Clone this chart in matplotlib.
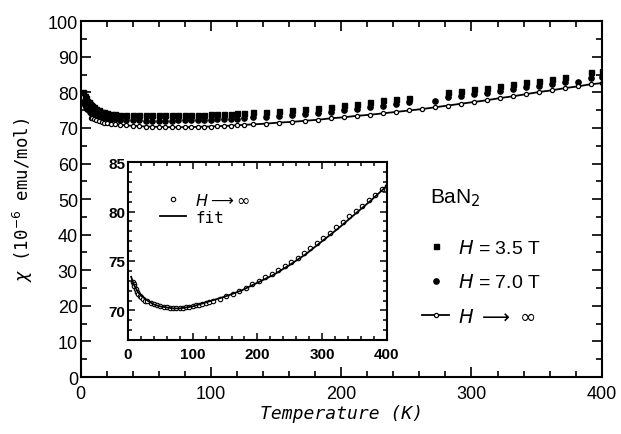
import numpy as np
import matplotlib
matplotlib.use("Agg")
import matplotlib.pyplot as plt
from matplotlib.ticker import MultipleLocator

nan = np.nan

# temperature grid (K)
temp = [2, 3, 4, 5, 6, 7, 8, 9, 10, 12, 14, 16, 18, 20, 23, 26, 30,
        35, 40, 45, 50, 55, 60, 65, 70, 75, 80, 85, 90, 95, 100, 105, 110, 115, 120, 125,
        132, 142, 152, 162, 172, 182, 192, 202, 212, 222, 232, 242, 252, 262, 272,
        282, 292, 302, 312, 322, 332, 342, 352, 362, 372, 382, 392, 400]

# H = 3.5 T
chi_35 = [80.0, 79.0, 78.3, 77.7, 77.2, 76.8, 76.4, 76.1, 75.8, 75.3, 74.9, 74.6, 74.4, 74.2, 74.0, 73.8, 73.7,
          73.6, 73.6, 73.5, 73.5, 73.5, 73.5, 73.5, 73.5, 73.6, 73.6, 73.6, 73.7, 73.7, 73.8, 73.9, 74.0, 74.0, 74.1, 74.2,
          74.4, 74.5, 74.8, 75.1, 75.3, 75.6, 75.8, 76.4, 76.8, 77.2, 77.8, 78.0, 78.4, nan, nan,
          80.0, 80.4, 80.9, 81.1, 81.8, 82.3, 82.8, 83.2, 83.7, 84.4, nan, 85.6, 86.0]

# H = 7.0 T
chi_70 = [77.2, 76.4, 75.8, 75.3, 74.9, 74.6, 74.3, 74.0, 73.8, 73.5, 73.2, 73.0, 72.8, 72.7, 72.5, 72.4, 72.3,
          72.2, 72.1, 72.1, 72.0, 72.0, 72.0, 72.0, 72.0, 72.1, 72.1, 72.1, 72.2, 72.2, 72.3, 72.4, 72.5, 72.5, 72.6, 72.7,
          73.0, 73.2, 73.4, 73.7, 73.9, 74.2, 74.5, 74.9, 75.3, 75.8, 76.3, 76.7, 77.2, nan, 77.5,
          78.6, 79.1, 79.5, 79.9, 80.5, 81.0, 81.5, 81.9, 82.4, 82.9, 82.9, 84.1, 84.3]

# H -> infinity (extrapolated)
chi_inf = [nan, nan, nan, nan, nan, nan, 72.9, 72.7, 72.5, 72.2, 71.9, 71.7, 71.5, 71.4, 71.2, 71.0, 70.9,
           70.7, 70.6, 70.5, 70.4, 70.35, 70.3, 70.25, 70.2, 70.2, 70.2, 70.25, 70.3, 70.35, 70.4, 70.5, 70.55, 70.65, 70.75, 70.85,
           71.0, 71.2, 71.5, 71.7, 72.0, 72.3, 72.7, 73.0, 73.4, 73.7, 74.1, 74.5, 74.9, 75.3, 75.8,
           76.3, 76.8, 77.3, 77.8, 78.4, 78.9, 79.5, 80.1, 80.6, 81.2, 81.7, 82.3, 82.6]

# fit curve (inset)
fit_t = [5, 8, 10, 15, 20, 30, 40, 50, 60, 70, 80, 100, 120, 150, 175, 200, 225, 250, 275, 300, 325, 350, 375, 400]
fit_chi = [73.4, 72.8, 72.5, 71.9, 71.5, 71.0, 70.6, 70.4, 70.3, 70.2, 70.2, 70.4, 70.8, 71.4, 72.0, 72.8,
           73.6, 74.6, 75.7, 77.0, 78.3, 79.7, 81.1, 82.6]

fig = plt.figure(figsize=(6.21, 4.35), dpi=100)
ax = fig.add_axes([0.130, 0.131, 0.839, 0.818])

ax.plot(temp, chi_35, 's', color='black', ms=3.6, mec='black', label='$H$ = 3.5 T')
ax.plot(temp, chi_70, 'o', color='black', ms=3.8, mec='black', label='$H$ = 7.0 T')
ax.plot(temp, chi_inf, '-o', color='black', lw=1.3, ms=3.0, mfc='white', mec='black', mew=0.9,
        label=r'$H$ $\longrightarrow$ $\infty$')

ax.set_xlim(0, 400)
ax.set_ylim(0, 100)
ax.xaxis.set_major_locator(MultipleLocator(100))
ax.xaxis.set_minor_locator(MultipleLocator(20))
ax.yaxis.set_major_locator(MultipleLocator(10))
ax.yaxis.set_minor_locator(MultipleLocator(5))
ax.tick_params(which='both', direction='in', top=True, right=True, width=1.2)
ax.tick_params(which='major', length=7, pad=6)
ax.tick_params(which='minor', length=4)
for lab in ax.get_xticklabels() + ax.get_yticklabels():
    lab.set_fontfamily('Liberation Sans')
    lab.set_fontsize(13)
ax.tick_params(axis='y', pad=2)
for sp in ax.spines.values():
    sp.set_linewidth(1.5)

ax.set_xlabel('Temperature (K)', family='DejaVu Sans Mono', style='italic', fontsize=13, labelpad=1)
ax.set_ylabel(r'$\chi$ (10$^{-6}$ emu/mol)', family='DejaVu Sans Mono', fontsize=12.5, labelpad=9)

ax.text(0.67, 0.505, 'BaN$_2$', transform=ax.transAxes, family='Liberation Sans', fontsize=15,
        ha='left', va='center')

leg = ax.legend(loc='upper left', bbox_to_anchor=(0.64, 0.41), frameon=False,
                prop={'family': 'Liberation Sans', 'size': 14}, handlelength=1.4,
                handletextpad=0.45, labelspacing=0.85, borderaxespad=0)

# inset
ins = fig.add_axes([0.206, 0.216, 0.417, 0.409])
ins.plot(temp, chi_inf, 'o', ms=3.2, mfc='white', mec='black', mew=0.8, label=r'$H$$\longrightarrow$$\infty$')
ins.plot(fit_t, fit_chi, '-', color='black', lw=1.3, label='fit')
ins.set_xlim(0, 400)
ins.set_ylim(67, 85)
ins.xaxis.set_major_locator(MultipleLocator(100))
ins.xaxis.set_minor_locator(MultipleLocator(20))
ins.yaxis.set_major_locator(MultipleLocator(5))
ins.yaxis.set_minor_locator(MultipleLocator(1))
ins.tick_params(which='both', direction='in', top=True, right=True, width=1.1)
ins.tick_params(which='major', length=5, pad=5)
ins.tick_params(which='minor', length=3)
for lab in ins.get_xticklabels() + ins.get_yticklabels():
    lab.set_fontfamily('Liberation Sans')
    lab.set_fontsize(11)
    lab.set_fontweight('bold')
ins.tick_params(axis='y', pad=2)
for sp in ins.spines.values():
    sp.set_linewidth(1.5)
ins.legend(loc='upper left', bbox_to_anchor=(0.1, 0.87), frameon=False,
           prop={'family': 'DejaVu Sans Mono', 'size': 11.5}, handlelength=1.6,
           handletextpad=0.6, labelspacing=0.15, borderaxespad=0)

fig.savefig('out.png', dpi=100)
